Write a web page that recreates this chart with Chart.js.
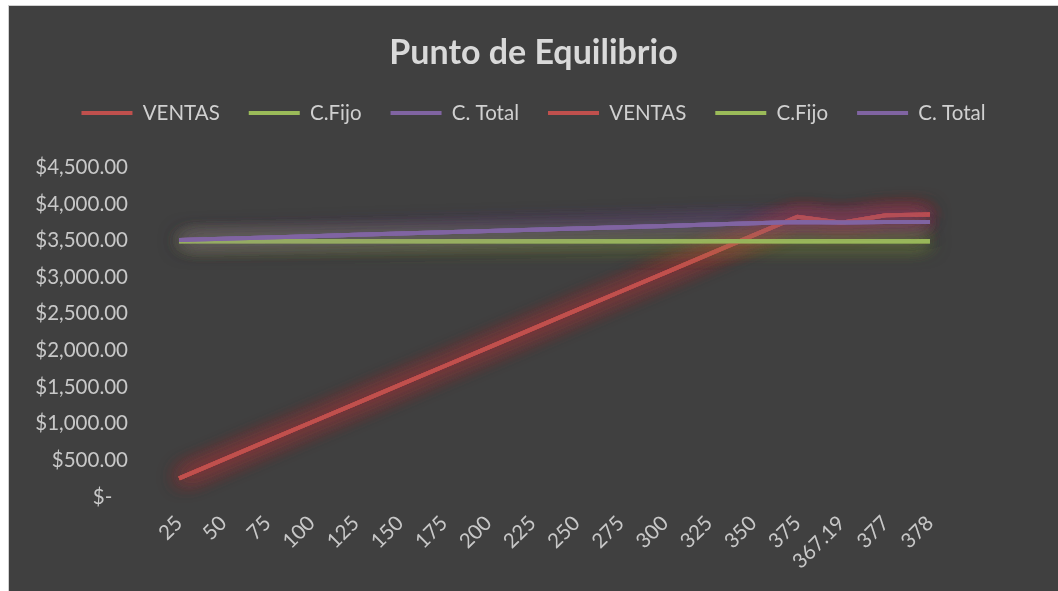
<!DOCTYPE html>
<html>
<head>
<meta charset="utf-8">
<script src="https://cdn.jsdelivr.net/npm/chart.js@4"></script>
<style>
  body { margin: 0; background: #ffffff; }
  #wrap {
    position: absolute; left: 8px; top: 5px; width: 1050px; height: 586px;
    background: #404040; border-left: 1px solid #d0d0d0; border-top: 1px solid #d0d0d0;
    box-sizing: border-box;
  }
</style>
</head>
<body>
<div id="wrap"><canvas id="peChart"></canvas></div>
<script>
const cantidades = ["25", "50", "75", "100", "125", "150", "175", "200", "225", "250",
  "275", "300", "325", "350", "375", "367.19", "377", "378"];
const ventas = [255, 510, 765, 1020, 1275, 1530, 1785, 2040, 2295, 2550,
  2805, 3060, 3315, 3570, 3825, 3745, 3845, 3856];
const costoFijo = [3490, 3490, 3490, 3490, 3490, 3490, 3490, 3490, 3490, 3490,
  3490, 3490, 3490, 3490, 3490, 3490, 3490, 3490];
const costoTotal = [3508, 3525, 3543, 3560, 3578, 3595, 3613, 3630, 3648, 3665,
  3683, 3700, 3718, 3735, 3753, 3747, 3754, 3755];

const rojo = "#c0504d";
const verde = "#9bbb59";
const morado = "#8064a2";
const glowColors = {};
glowColors[rojo] = "rgba(200, 45, 50, 0.75)";
glowColors[verde] = "rgba(150, 185, 60, 0.5)";
glowColors[morado] = "rgba(125, 80, 170, 0.55)";

const fontName = "Lato, 'Open Sans', sans-serif";

// glow effect around each line, like the excel chart
const glow = {
  id: "glow",
  beforeDatasetDraw(chart, args) {
    const ctx = chart.ctx;
    ctx.save();
    ctx.shadowColor = glowColors[args.meta.dataset.options.borderColor];
    ctx.shadowBlur = 22;
    // draw once more so the glow is thicker
    args.meta.controller.draw();
  },
  afterDatasetDraw(chart) {
    chart.ctx.restore();
  },
};

// extra space between legend and plot area
const legendGap = {
  id: "legendGap",
  beforeInit(chart) {
    const fit = chart.legend.fit;
    chart.legend.fit = function () {
      fit.bind(chart.legend)();
      this.height += 34;
    };
  },
};

function serie(label, data, color, order) {
  return {
    label: label,
    data: data,
    borderColor: color,
    backgroundColor: color,
    borderWidth: 4,
    pointRadius: 0,
    tension: 0,
    clip: false,
    order: order,
  };
}

new Chart(document.getElementById("peChart"), {
  type: "line",
  data: {
    labels: cantidades,
    datasets: [
      serie("VENTAS", ventas, rojo, 6),
      serie("C.Fijo", costoFijo, verde, 5),
      serie("C. Total", costoTotal, morado, 4),
      serie("VENTAS", ventas, rojo, 3),
      serie("C.Fijo", costoFijo, verde, 2),
      serie("C. Total", costoTotal, morado, 1),
    ],
  },
  plugins: [glow, legendGap],
  options: {
    responsive: true,
    maintainAspectRatio: false,
    animation: false,
    layout: { padding: 0 },
    plugins: {
      title: {
        display: true,
        text: "Punto de Equilibrio",
        color: "#d9d9d9",
        font: { family: fontName, size: 34, weight: "bold" },
        padding: { top: 27, bottom: 0 },
      },
      legend: {
        position: "top",
        labels: {
          color: "#d0d0d0",
          font: { family: fontName, size: 20.5 },
          boxWidth: 51,
          boxHeight: 4,
          padding: 29,
          sort: (a, b) => a.datasetIndex - b.datasetIndex,
          generateLabels: (chart) =>
            Chart.defaults.plugins.legend.labels.generateLabels(chart).map((l) => ({
              ...l,
              lineWidth: 0,
              fillStyle: l.strokeStyle,
            })),
        },
      },
      tooltip: { enabled: false },
    },
    scales: {
      x: {
        offset: true,
        grid: { display: false, drawTicks: false },
        border: { display: false },
        ticks: {
          color: "#c8c8c8",
          font: { family: fontName, size: 20.5 },
          minRotation: 45,
          maxRotation: 45,
          padding: 14,
          autoSkip: false,
        },
        afterFit: (s) => { s.height = 94; },
      },
      y: {
        min: 0,
        max: 4500,
        grid: { display: false, drawTicks: false },
        border: { display: false },
        ticks: {
          stepSize: 500,
          color: "#c8c8c8",
          font: { family: fontName, size: 20.5 },
          padding: 29,
          callback: (v) =>
            v === 0 ? "$-   " : "$" + v.toLocaleString("en-US", { minimumFractionDigits: 2 }),
        },
        afterFit: (s) => { s.width = 148; },
      },
      derecha: {
        position: "right",
        display: true,
        grid: { display: false, drawTicks: false },
        border: { display: false },
        ticks: { display: false },
        afterFit: (s) => { s.width = 106; },
      },
    },
  },
});
</script>
</body>
</html>
